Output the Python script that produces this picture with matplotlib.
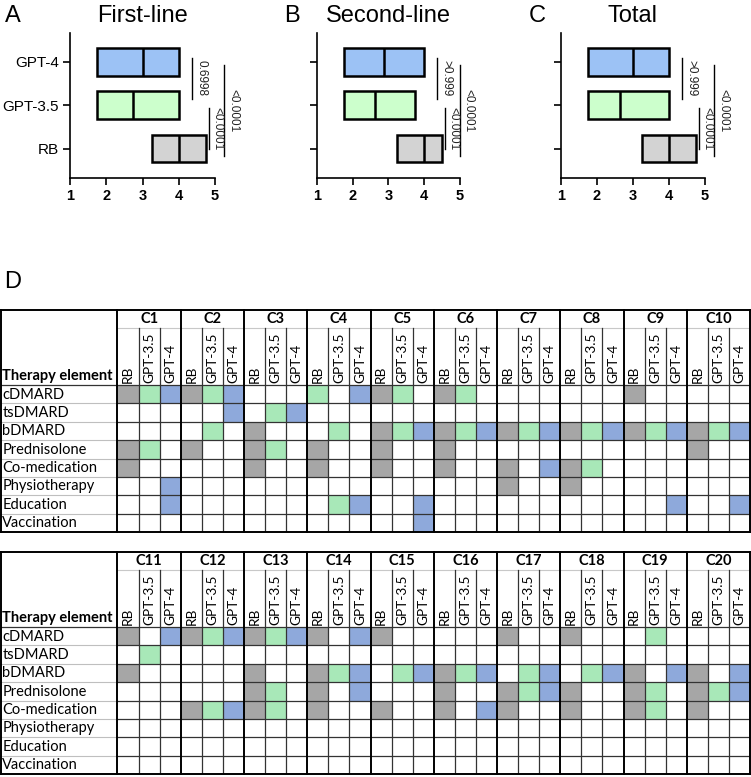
import matplotlib
matplotlib.use("Agg")
import matplotlib.pyplot as plt
import numpy as np
from matplotlib.colors import ListedColormap, BoundaryNorm

# ---------------- data ----------------
models = ["RB", "GPT-3.5", "GPT-4"]          # y = 0, 1, 2
panel_titles = ["First-line", "Second-line", "Total"]
panel_letters = ["A", "B", "C"]

first_lo = [3.25, 1.75, 1.75]
first_med = [4.0, 2.75, 3.0]
first_hi = [4.75, 4.0, 4.0]

second_lo = [3.25, 1.75, 1.75]
second_med = [4.0, 2.625, 2.875]
second_hi = [4.5, 3.75, 4.0]

total_lo = [3.25, 1.75, 1.75]
total_med = [4.0, 2.625, 3.0]
total_hi = [4.75, 4.0, 4.0]

# comparisons: (GPT-4 vs GPT-3.5), (GPT-3.5 vs RB), (GPT-4 vs RB)
comparisons = [(2, 1), (1, 0), (2, 0)]
first_p = ["0.6998", "<0.0001", "<0.0001"]
second_p = [">0.999", "<0.0001", "<0.0001"]
total_p = [">0.999", "<0.0001", "<0.0001"]

x_ticks = [1, 2, 3, 4, 5]

row_labels = ["cDMARD", "tsDMARD", "bDMARD", "Prednisolone", "Co-medication",
              "Physiotherapy", "Education", "Vaccination"]
col_models = ["RB", "GPT-3.5", "GPT-4"]
cases_1 = ["C1", "C2", "C3", "C4", "C5", "C6", "C7", "C8", "C9", "C10"]
cases_2 = ["C11", "C12", "C13", "C14", "C15", "C16", "C17", "C18", "C19", "C20"]

# r = RB mentioned (grey), g = GPT-3.5 (green), b = GPT-4 (blue), . = not mentioned
table_1 = [
    "rgb rgb ... g.b rg. rg. ... ... r.. ...",
    "... ..b .gb ... ... ... ... ... ... ...",
    "... .g. r.. .g. rgb rgb rgb rgb rgb rgb",
    "rg. r.. rg. r.. r.. r.. ... ... ... r..",
    "r.. ... r.. r.. r.. r.. r.b rg. ... ...",
    "..b ... ... ... ... ... r.. r.. ... ...",
    "..b ... ... .gb ..b ... ... ... ..b ..b",
    "... ... ... ... ..b ... ... ... ... ...",
]
table_2 = [
    "r.b rgb rgb r.b r.. ... r.. r.. .g. ...",
    ".g. ... ... ... ... ... ... ... ... ...",
    "r.. ... r.. rgb .gb rgb .gb .gb r.b r.b",
    "... ... rg. r.b ... r.. rgb r.. rg. rgb",
    "... rgb rg. r.. r.. r.b r.. r.. rg. r..",
    "... ... ... ... ... ... ... ... ... ...",
    "... ... ... ... ... ... ... ... ... ...",
    "... ... ... ... ... ... ... ... ... ...",
]

# ---------------- style ----------------
W, H = 751, 777
fig = plt.figure(figsize=(W / 100, H / 100), dpi=100)
plt.rcParams["font.family"] = ["Liberation Sans", "DejaVu Sans"]

box_colors = ["#D3D3D3", "#CCFFCC", "#9CC2F5"]
cell_colors = ["#FFFFFF", "#A6A6A6", "#A8E8B8", "#8EA9DB"]
tfont = ["Lato", "DejaVu Sans"]


def fx(px):
    return px / W


def fy(py):
    return 1 - py / H


panel_data = [
    (first_lo, first_med, first_hi, first_p),
    (second_lo, second_med, second_hi, second_p),
    (total_lo, total_med, total_hi, total_p),
]
axes_px = [(70, 215), (316.7, 460), (561, 705)]
ax_top, ax_bot = 33, 177.5
bracket_off = [0.37, 0.08, 0.50]
bracket_y = [(1.15, 2.09), (-0.02, 0.94), (-0.18, 1.93)]

for i, ((lo, med, hi, pv), (x0, x1)) in enumerate(zip(panel_data, axes_px)):
    ax = fig.add_axes([fx(x0), fy(ax_bot), fx(x1 - x0), (ax_bot - ax_top) / H])
    ypos = np.arange(len(models))
    lo = np.array(lo)
    hi = np.array(hi)
    ax.barh(ypos, hi - lo, left=lo, height=0.64, color=box_colors,
            edgecolor="black", linewidth=1.8, zorder=2)
    for y, m in zip(ypos, med):
        ax.plot([m, m], [y - 0.32, y + 0.32], color="black", lw=1.8,
                zorder=3, solid_capstyle="butt")
    ax.set_xlim(1, 5)
    ax.set_ylim(-0.67, 2.67)
    ax.set_xticks(x_ticks)
    ax.set_xticklabels([str(t) for t in x_ticks], fontsize=10.5,
                       fontweight="bold")
    ax.set_yticks(ypos)
    if i == 0:
        ax.set_yticklabels(models, fontsize=11)
    else:
        ax.set_yticklabels([])
    for s in ["top", "right"]:
        ax.spines[s].set_visible(False)
    for s in ["left", "bottom"]:
        ax.spines[s].set_linewidth(1.2)
    ax.tick_params(axis="both", direction="out", length=5, width=1.2,
                   pad=3)
    # brackets
    for k, ((a, b), lab) in enumerate(zip(comparisons, pv)):
        xb = max(hi[a], hi[b]) + bracket_off[k]
        y0, y1 = bracket_y[k]
        ax.plot([xb, xb], [y0, y1], color="black", lw=1.0, clip_on=False)
        ax.text(xb + 0.08, (y0 + y1) / 2, lab, rotation=270, ha="left",
                va="center", fontsize=8.5, color="#222222", clip_on=False)
    cx = (x0 + x1) / 2
    fig.text(fx(cx), fy(16), panel_titles[i], ha="center", va="center",
             fontsize=17)

letter_x = [13, 292, 537]
for lx, L in zip(letter_x, panel_letters):
    fig.text(fx(lx), fy(16), L, ha="center", va="center", fontsize=17)
fig.text(fx(13), fy(282), "D", ha="center", va="center", fontsize=17)

# ---------------- tables ----------------
cmap = ListedColormap(cell_colors)
norm = BoundaryNorm([-0.5, 0.5, 1.5, 2.5, 3.5], cmap.N)
code = {".": 0, "r": 1, "g": 2, "b": 3}

label_w_px = 117
table_x0, table_x1 = 0.5, 750
cell_w_px = (table_x1 - table_x0 - label_w_px) / 30
label_w = label_w_px / cell_w_px
row_h_px = 18.375
hdr_rows = 75 / row_h_px


def draw_table(top_px, cases, rows):
    bottom_px = top_px + 75 + 8 * row_h_px
    ax = fig.add_axes([fx(table_x0), fy(bottom_px),
                       fx(table_x1 - table_x0), (bottom_px - top_px) / H])
    ax.set_xlim(-label_w, 30)
    ax.set_ylim(8, -hdr_rows)
    ax.axis("off")
    grid = np.array([[code[c] for c in r.replace(" ", "")] for r in rows])
    ax.pcolormesh(np.arange(31), np.arange(9), grid, cmap=cmap, norm=norm,
                  zorder=1)
    ncols = grid.shape[1]
    c_row = -hdr_rows + 1.0
    # horizontal lines
    for r in range(1, 8):
        ax.plot([-label_w, 0], [r, r], color="#BFBFBF", lw=0.8, zorder=2)
        ax.plot([0, ncols], [r, r], color="#333333", lw=0.9, zorder=2)
    ax.plot([-label_w, ncols], [0, 0], color="#333333", lw=0.9, zorder=2)
    ax.plot([0, ncols], [c_row, c_row], color="#C8C8C8", lw=0.8, zorder=2)
    # vertical lines
    for c in range(1, ncols):
        if c % 3 == 0:
            continue
        ax.plot([c, c], [c_row, 8], color="#333333", lw=0.9, zorder=2)
    for c in range(0, ncols + 1, 3):
        ax.plot([c, c], [-hdr_rows, 8], color="black", lw=1.4, zorder=3,
                clip_on=False)
    # border
    ax.plot([-label_w, ncols], [-hdr_rows, -hdr_rows], color="black",
            lw=1.4, clip_on=False, zorder=3)
    ax.plot([-label_w, ncols], [8, 8], color="black", lw=1.4,
            clip_on=False, zorder=3)
    ax.plot([-label_w, -label_w], [-hdr_rows, 8], color="black", lw=1.4,
            clip_on=False, zorder=3)
    # texts
    for g, cname in enumerate(cases):
        ax.text(3 * g + 1.5, -hdr_rows + 0.5, cname, ha="center",
                va="center", fontsize=10.5, fontweight="bold", family=tfont)
        for j, m in enumerate(col_models):
            ax.text(3 * g + j + 0.5, -0.12, m, rotation=90, ha="center",
                    va="bottom", fontsize=9.8, family=tfont)
    ax.text(-label_w + 0.08, -0.1, "Therapy element", ha="left",
            va="bottom", fontsize=10.5, fontweight="bold", family=tfont)
    for r, lab in enumerate(row_labels):
        ax.text(-label_w + 0.08, r + 0.52, lab, ha="left", va="center",
                fontsize=10.5, family=tfont)


draw_table(310, cases_1, table_1)
draw_table(552, cases_2, table_2)

fig.savefig("out.png", dpi=100)
